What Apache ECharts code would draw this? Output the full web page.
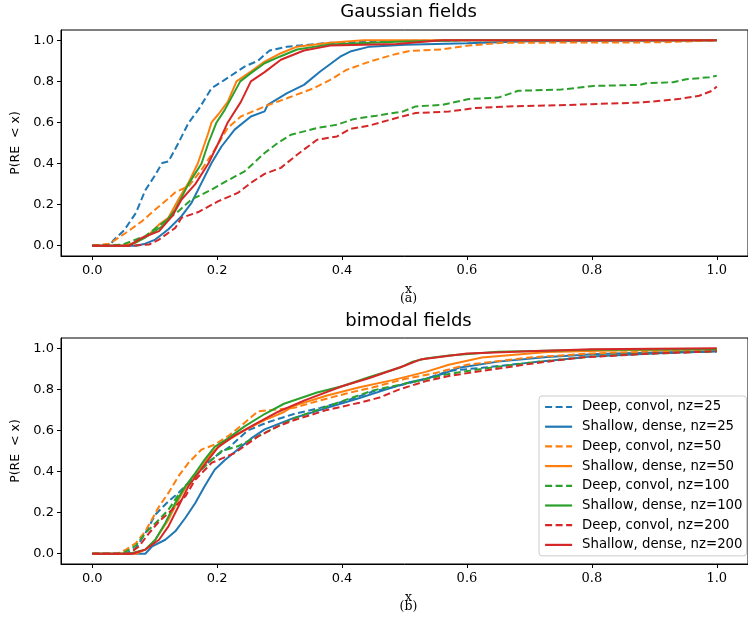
<!DOCTYPE html>
<html>
<head>
<meta charset="utf-8">
<script src="https://cdn.jsdelivr.net/npm/echarts@6/dist/echarts.min.js"></script>
<style>
  html, body { margin: 0; padding: 0; background: #fff; }
  #chart { width: 748px; height: 620px; }
</style>
</head>
<body>
<div id="chart"></div>
<script>
// Empirical CDFs of the relative error, P(RE < x), per model and nz.
const seriesNames = [
  'Deep, convol, nz=25', 'Shallow, dense, nz=25',
  'Deep, convol, nz=50', 'Shallow, dense, nz=50',
  'Deep, convol, nz=100', 'Shallow, dense, nz=100',
  'Deep, convol, nz=200', 'Shallow, dense, nz=200'
];
const xTicks = [0, 0.2, 0.4, 0.6, 0.8, 1.0];
const yTicks = [0, 0.2, 0.4, 0.6, 0.8, 1.0];

// (a) Gaussian fields
const gaussDeep25 = [[0,0],[0.028,0],[0.034,0.027],[0.051,0.075],[0.07,0.16],[0.085,0.27],[0.101,0.345],[0.112,0.403],[0.122,0.41],[0.138,0.5],[0.154,0.597],[0.17,0.662],[0.191,0.767],[0.212,0.807],[0.244,0.872],[0.265,0.9],[0.284,0.95],[0.312,0.969],[0.381,0.988],[0.5,0.997],[0.6,1.0],[1.0,1.0]];
const gaussShallow25 = [[0,0],[0.07,0],[0.085,0.01],[0.101,0.03],[0.122,0.08],[0.143,0.144],[0.159,0.209],[0.175,0.306],[0.191,0.403],[0.207,0.483],[0.228,0.565],[0.254,0.629],[0.276,0.654],[0.281,0.686],[0.312,0.743],[0.339,0.783],[0.365,0.848],[0.397,0.92],[0.413,0.945],[0.444,0.969],[0.5,0.978],[0.6,0.985],[0.7,0.995],[1.0,1.0]];
const gaussDeep50 = [[0,0],[0.028,0.01],[0.054,0.063],[0.08,0.12],[0.101,0.176],[0.12,0.225],[0.133,0.26],[0.154,0.289],[0.175,0.37],[0.196,0.467],[0.217,0.573],[0.238,0.629],[0.276,0.678],[0.312,0.718],[0.355,0.767],[0.381,0.807],[0.407,0.856],[0.444,0.896],[0.481,0.929],[0.508,0.948],[0.561,0.956],[0.603,0.974],[0.656,0.988],[0.91,0.99],[1.0,1.0]];
const gaussShallow50 = [[0,0],[0.048,0],[0.07,0.015],[0.091,0.055],[0.107,0.103],[0.122,0.136],[0.138,0.225],[0.154,0.306],[0.169,0.4],[0.186,0.55],[0.191,0.6],[0.202,0.64],[0.217,0.7],[0.231,0.8],[0.254,0.848],[0.276,0.896],[0.302,0.937],[0.328,0.969],[0.381,0.988],[0.434,1.0],[1.0,1.0]];
const gaussDeep100 = [[0,0],[0.048,0.005],[0.085,0.047],[0.117,0.12],[0.138,0.168],[0.159,0.225],[0.17,0.241],[0.191,0.273],[0.212,0.31],[0.244,0.362],[0.276,0.451],[0.297,0.5],[0.318,0.54],[0.36,0.573],[0.392,0.589],[0.418,0.616],[0.455,0.633],[0.497,0.653],[0.518,0.678],[0.561,0.686],[0.603,0.714],[0.65,0.721],[0.682,0.754],[0.751,0.76],[0.803,0.778],[0.877,0.783],[0.887,0.791],[0.93,0.796],[0.951,0.81],[0.988,0.82],[1.0,0.827]];
const gaussShallow100 = [[0,0],[0.059,0],[0.085,0.04],[0.112,0.095],[0.133,0.176],[0.154,0.3],[0.175,0.4],[0.186,0.5],[0.199,0.6],[0.212,0.66],[0.237,0.8],[0.254,0.84],[0.276,0.888],[0.3,0.92],[0.328,0.955],[0.381,0.98],[0.487,0.993],[0.6,1.0],[1.0,1.0]];
const gaussDeep200 = [[0,0],[0.059,0],[0.091,0.006],[0.107,0.03],[0.133,0.087],[0.143,0.136],[0.17,0.164],[0.202,0.217],[0.233,0.257],[0.254,0.306],[0.276,0.35],[0.302,0.379],[0.328,0.443],[0.36,0.516],[0.392,0.532],[0.413,0.568],[0.444,0.585],[0.487,0.622],[0.518,0.646],[0.571,0.653],[0.613,0.67],[0.666,0.678],[0.761,0.685],[0.877,0.697],[0.898,0.702],[0.941,0.715],[0.972,0.73],[0.993,0.755],[1.0,0.775]];
const gaussShallow200 = [[0,0],[0.059,0],[0.08,0.039],[0.107,0.071],[0.128,0.144],[0.143,0.225],[0.165,0.3],[0.186,0.4],[0.202,0.5],[0.217,0.6],[0.238,0.7],[0.254,0.8],[0.276,0.845],[0.302,0.905],[0.339,0.95],[0.381,0.974],[0.487,0.982],[0.56,1.0],[1.0,1.0]];

// (b) bimodal fields
const bimoDeep25 = [[0,0],[0.054,0],[0.07,0.028],[0.085,0.1],[0.101,0.19],[0.122,0.255],[0.138,0.296],[0.159,0.36],[0.18,0.43],[0.2,0.48],[0.22,0.52],[0.249,0.6],[0.281,0.64],[0.323,0.68],[0.365,0.71],[0.407,0.745],[0.45,0.79],[0.48,0.81],[0.534,0.85],[0.571,0.89],[0.624,0.905],[0.7,0.93],[0.8,0.96],[0.9,0.975],[1.0,0.985]];
const bimoShallow25 = [[0,0],[0.085,0],[0.096,0.036],[0.117,0.068],[0.133,0.109],[0.149,0.174],[0.165,0.247],[0.18,0.328],[0.196,0.409],[0.212,0.455],[0.233,0.507],[0.254,0.56],[0.276,0.605],[0.323,0.661],[0.376,0.71],[0.428,0.758],[0.471,0.8],[0.508,0.835],[0.534,0.852],[0.566,0.88],[0.587,0.905],[0.65,0.935],[0.729,0.958],[0.809,0.972],[0.9,0.98],[1.0,0.985]];
const bimoDeep50 = [[0,0],[0.04,0],[0.054,0.02],[0.07,0.052],[0.085,0.109],[0.107,0.23],[0.122,0.296],[0.138,0.377],[0.154,0.442],[0.175,0.507],[0.196,0.531],[0.217,0.571],[0.244,0.637],[0.265,0.693],[0.291,0.701],[0.323,0.71],[0.36,0.742],[0.407,0.78],[0.45,0.81],[0.5,0.85],[0.55,0.88],[0.6,0.92],[0.7,0.955],[0.8,0.975],[0.9,0.985],[1.0,0.99]];
const bimoShallow50 = [[0,0],[0.07,0],[0.085,0.02],[0.101,0.068],[0.122,0.166],[0.138,0.263],[0.154,0.344],[0.17,0.409],[0.191,0.49],[0.212,0.545],[0.244,0.6],[0.276,0.65],[0.307,0.69],[0.323,0.72],[0.376,0.77],[0.428,0.81],[0.481,0.845],[0.534,0.885],[0.571,0.92],[0.624,0.955],[0.729,0.982],[0.85,0.99],[1.0,0.995]];
const bimoDeep100 = [[0,0],[0.048,0],[0.07,0.04],[0.085,0.1],[0.107,0.166],[0.122,0.214],[0.138,0.287],[0.159,0.36],[0.186,0.442],[0.207,0.5],[0.233,0.523],[0.265,0.571],[0.297,0.62],[0.328,0.665],[0.365,0.705],[0.407,0.75],[0.45,0.795],[0.481,0.815],[0.534,0.85],[0.571,0.875],[0.624,0.9],[0.7,0.93],[0.8,0.96],[0.9,0.975],[1.0,0.985]];
const bimoShallow100 = [[0,0],[0.059,0],[0.085,0.02],[0.101,0.068],[0.117,0.15],[0.133,0.247],[0.149,0.328],[0.165,0.393],[0.18,0.458],[0.196,0.52],[0.217,0.56],[0.244,0.62],[0.276,0.68],[0.307,0.73],[0.36,0.785],[0.4,0.815],[0.444,0.86],[0.492,0.905],[0.513,0.935],[0.534,0.95],[0.571,0.965],[0.65,0.983],[0.8,0.993],[1.0,0.995]];
const bimoDeep200 = [[0,0],[0.059,0],[0.075,0.036],[0.091,0.1],[0.107,0.157],[0.128,0.214],[0.149,0.279],[0.165,0.36],[0.191,0.442],[0.228,0.49],[0.265,0.57],[0.297,0.62],[0.323,0.65],[0.376,0.7],[0.428,0.735],[0.46,0.76],[0.492,0.8],[0.534,0.84],[0.571,0.865],[0.624,0.89],[0.703,0.925],[0.782,0.955],[0.9,0.975],[1.0,0.985]];
const bimoShallow200 = [[0,0],[0.064,0],[0.085,0.02],[0.107,0.068],[0.122,0.133],[0.138,0.23],[0.154,0.328],[0.17,0.393],[0.186,0.458],[0.202,0.52],[0.228,0.575],[0.26,0.63],[0.297,0.69],[0.339,0.745],[0.4,0.815],[0.444,0.855],[0.5,0.915],[0.525,0.945],[0.6,0.975],[0.7,0.985],[0.8,0.995],[1.0,1.0]];

const gaussData = [gaussDeep25, gaussShallow25, gaussDeep50, gaussShallow50, gaussDeep100, gaussShallow100, gaussDeep200, gaussShallow200];
const bimoData = [bimoDeep25, bimoShallow25, bimoDeep50, bimoShallow50, bimoDeep100, bimoShallow100, bimoDeep200, bimoShallow200];

const palette = ['#1f77b4', '#ff7f0e', '#2ca02c', '#d62728'];
const SANS = 'DejaVu Sans';
const SERIF = 'DejaVu Serif';

function makeSeries(dataSets, axisIdx) {
  return dataSets.map((d, i) => ({
    name: seriesNames[i],
    type: 'line',
    xAxisIndex: axisIdx,
    yAxisIndex: axisIdx,
    data: d,
    symbol: 'none',
    smooth: false,
    silent: true,
    color: palette[Math.floor(i / 2)],
    lineStyle: {
      width: 2,
      color: palette[Math.floor(i / 2)],
      type: i % 2 === 0 ? [7, 3.5] : 'solid'
    }
  }));
}

function xAxisDef(gridIndex) {
  return {
    gridIndex, type: 'value', min: -0.05, max: 1.05,
    axisLine: { show: true, onZero: false, lineStyle: { color: '#000', width: 1 } },
    axisTick: { show: true, customValues: xTicks, length: 4, lineStyle: { color: '#000' } },
    axisLabel: {
      customValues: xTicks, margin: 8, color: '#000', fontFamily: SANS, fontSize: 13,
      formatter: v => (v >= 0.6 ? '{s|' + v.toFixed(1) + '}' : v.toFixed(1)),
      rich: { s: { fontFamily: SERIF, fontSize: 13, color: '#000' } }
    },
    splitLine: { show: false }
  };
}

function yAxisDef(gridIndex) {
  return {
    gridIndex, type: 'value', min: -0.05, max: 1.05,
    axisLine: { show: true, onZero: false, lineStyle: { color: '#000', width: 1 } },
    axisTick: { show: true, customValues: yTicks, length: 4, lineStyle: { color: '#000' } },
    axisLabel: {
      customValues: yTicks, margin: 7, color: '#000', fontFamily: SANS, fontSize: 13,
      formatter: v => v.toFixed(1)
    },
    splitLine: { show: false },
    name: 'P(RE  < x)',
    nameLocation: 'middle',
    nameGap: 33,
    nameTextStyle: { fontFamily: SANS, fontSize: 12.5, color: '#000' }
  };
}

function textEl(text, x, y, font, size, align, baseline) {
  return {
    type: 'text', x, y, silent: true,
    style: { text, fill: '#000', font: size + 'px "' + font + '"', textAlign: align, textVerticalAlign: baseline }
  };
}

const chart = echarts.init(document.getElementById('chart'), null, { renderer: 'canvas' });
chart.setOption({
  animation: false,
  backgroundColor: '#fff',
  grid: [
    { left: 61, top: 30, width: 695, height: 226, show: true, borderColor: '#000', borderWidth: 1, containLabel: false },
    { left: 61, top: 338, width: 695, height: 226, show: true, borderColor: '#000', borderWidth: 1, containLabel: false }
  ],
  xAxis: [xAxisDef(0), xAxisDef(1)],
  yAxis: [yAxisDef(0), yAxisDef(1)],
  legend: {
    orient: 'vertical',
    left: 539, top: 396,
    itemWidth: 27, itemHeight: 14, itemGap: 5.7,
    padding: [4, 4, 4, 5],
    backgroundColor: 'rgba(255,255,255,0.8)',
    borderColor: '#ccc', borderWidth: 1, borderRadius: 3,
    selectedMode: false,
    itemStyle: { opacity: 0 },
    lineStyle: { width: 2.2 },
    textStyle: { fontFamily: SANS, fontSize: 13.3, lineHeight: 14, color: '#000', padding: [0, 0, 0, 5] },
    data: seriesNames
  },
  graphic: [
    textEl('Gaussian fields', 408.5, 21.5, SANS, 18, 'center', 'bottom'),
    textEl('bimodal fields', 408.5, 330, SANS, 18, 'center', 'bottom'),
    textEl('x', 408.5, 289.5, SERIF, 12.5, 'center', 'middle'),
    textEl('(a)', 408.5, 298.5, SERIF, 12.5, 'center', 'middle'),
    textEl('x', 408.5, 598, SERIF, 12.5, 'center', 'middle'),
    textEl('(b)', 408.5, 607, SERIF, 12.5, 'center', 'middle')
  ],
  series: makeSeries(gaussData, 0).concat(makeSeries(bimoData, 1))
});
</script>
</body>
</html>
